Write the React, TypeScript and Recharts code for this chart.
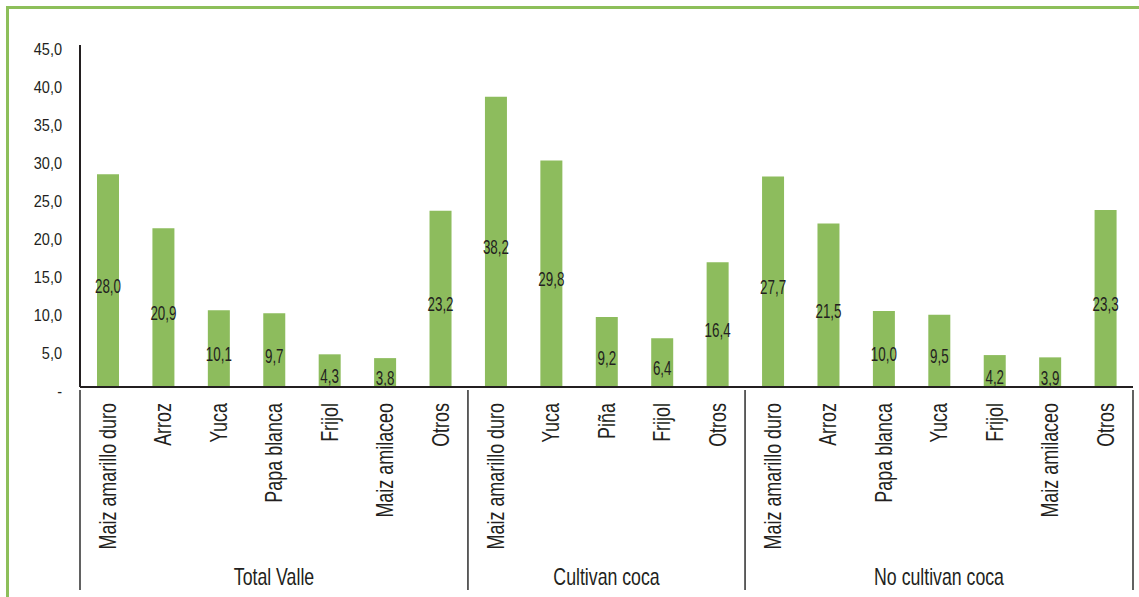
import { BarChart, Bar, XAxis, YAxis, LabelList } from 'recharts';

const groups = ['Total Valle', 'Cultivan coca', 'No cultivan coca'];

const totalValleCrops = ['Maiz amarillo duro', 'Arroz', 'Yuca', 'Papa blanca', 'Frijol', 'Maiz amilaceo', 'Otros'];
const totalValleValues = [28.0, 20.9, 10.1, 9.7, 4.3, 3.8, 23.2];

const cultivanCrops = ['Maiz amarillo duro', 'Yuca', 'Piña', 'Frijol', 'Otros'];
const cultivanValues = [38.2, 29.8, 9.2, 6.4, 16.4];

const noCultivanCrops = ['Maiz amarillo duro', 'Arroz', 'Papa blanca', 'Yuca', 'Frijol', 'Maiz amilaceo', 'Otros'];
const noCultivanValues = [27.7, 21.5, 10.0, 9.5, 4.2, 3.9, 23.3];

const yTicks = [0, 5, 10, 15, 20, 25, 30, 35, 40, 45];

const W = 1139;
const H = 597;
const MARGIN = { top: 45, right: 6, bottom: 0, left: 0 };
const Y_AXIS_W = 80;
const X_AXIS_H = 210;
const FONT = '"Liberation Sans", Arial, sans-serif';
const GREEN = '#8dbc5d';
const TEXT = '#231f20';

// flatten the three groups into one row per bar
const groupParts = [
  { crops: totalValleCrops, values: totalValleValues },
  { crops: cultivanCrops, values: cultivanValues },
  { crops: noCultivanCrops, values: noCultivanValues },
];

type Row = { key: string; crop: string; group: string; value: number; first: boolean; last: boolean; middle: boolean };

const rows: Row[] = [];
groupParts.forEach((g, gi) => {
  g.crops.forEach((crop, i) => {
    rows.push({
      key: `${gi}-${crop}`,
      crop,
      group: groups[gi],
      value: g.values[i],
      first: i === 0,
      last: i === g.crops.length - 1,
      middle: i === Math.floor(g.crops.length / 2),
    });
  });
});

const STEP = (W - MARGIN.left - Y_AXIS_W - MARGIN.right) / rows.length;

const fmt = (v: number) => v.toFixed(1).replace('.', ',');

function CropTick(props: any) {
  const { x, y, payload } = props;
  const i = payload?.index ?? props.index;
  const row = rows[i];
  if (!row) return null;
  const half = STEP / 2;
  return (
    <g>
      <text
        transform={`translate(${x},${y + 16}) rotate(-90) scale(0.78,1)`}
        textAnchor="end"
        dy="0.36em"
        fontSize={23}
        fontFamily={FONT}
        fill={TEXT}
      >
        {row.crop}
      </text>
      {row.first && (
        <line x1={x - half} x2={x - half} y1={y + 3} y2={y + 203} stroke="#3a3a3a" strokeWidth={1.6} />
      )}
      {row.last && i === rows.length - 1 && (
        <line x1={x + half} x2={x + half} y1={y + 3} y2={y + 203} stroke="#3a3a3a" strokeWidth={1.6} />
      )}
      {row.middle && (
        <text
          transform={`translate(${x},${y + 198}) scale(0.77,1)`}
          textAnchor="middle"
          fontSize={23}
          fontFamily={FONT}
          fill={TEXT}
        >
          {row.group}
        </text>
      )}
    </g>
  );
}

function ValueTick(props: any) {
  const { x, y, payload } = props;
  const v = payload.value as number;
  return (
    <text
      transform={`translate(${x - 18},${y + 10}) scale(0.88,1)`}
      textAnchor="end"
      fontSize={16.5}
      fontFamily={FONT}
      fill={TEXT}
    >
      {v === 0 ? '-' : fmt(v)}
    </text>
  );
}

function BarValue(props: any) {
  const { x, y, width, height, value } = props;
  const cx = x + width / 2;
  const cy = y + height / 2 + 6;
  return (
    <text
      transform={`translate(${cx},${cy}) scale(0.67,1)`}
      textAnchor="middle"
      dominantBaseline="central"
      fontSize={20}
      fontFamily={FONT}
      fill={TEXT}
    >
      {fmt(value)}
    </text>
  );
}

export default function App() {
  return (
    <div style={{ position: 'fixed', left: 0, top: 0, width: W, height: H, overflow: 'hidden', background: '#fff' }}>
      <div
        style={{
          position: 'absolute',
          left: 6,
          top: 6,
          width: W + 100,
          height: H + 100,
          border: '3px solid #8dbf5a',
        }}
      />
      <div style={{ position: 'absolute', left: 0, top: 0 }}>
        <BarChart width={W} height={H} data={rows} margin={MARGIN}>
          <XAxis
            dataKey="key"
            interval={0}
            height={X_AXIS_H}
            tickLine={false}
            tickSize={0}
            tickMargin={0}
            axisLine={{ stroke: '#231f20', strokeWidth: 2 }}
            tick={<CropTick />}
          />
          <YAxis
            domain={[0, 45]}
            ticks={yTicks}
            width={Y_AXIS_W}
            tickLine={false}
            tickSize={0}
            tickMargin={0}
            axisLine={{ stroke: '#231f20', strokeWidth: 2 }}
            tick={<ValueTick />}
          />
          <Bar dataKey="value" fill={GREEN} barSize={22} isAnimationActive={false}>
            <LabelList dataKey="value" content={<BarValue />} />
          </Bar>
        </BarChart>
      </div>
    </div>
  );
}
